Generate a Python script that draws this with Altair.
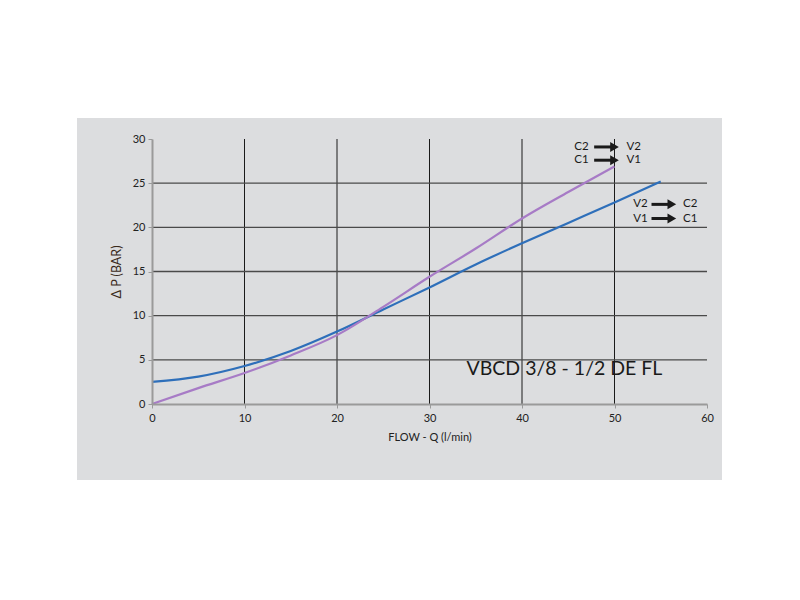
import altair as alt
import pandas as pd

# --- data ---
flow_v_to_c = [0, 5, 10, 15, 20, 25, 30, 35, 40, 45, 50, 55]
dp_v_to_c = [2.5, 3.1, 4.3, 6.0, 8.2, 10.7, 13.2, 15.8, 18.2, 20.5, 22.8, 25.2]
flow_c_to_v = [0, 5, 10, 15, 20, 25, 30, 35, 40, 45, 50]
dp_c_to_v = [0.0, 1.8, 3.5, 5.5, 7.8, 11.0, 14.4, 17.6, 21.0, 24.0, 26.9]

x_grid = [10, 20, 30, 40, 50]
y_grid = [5, 10, 15, 20, 25]
x_ticks = [0, 10, 20, 30, 40, 50, 60]
y_ticks = [0, 5, 10, 15, 20, 25, 30]

label_left = ["C2", "C1", "V2", "V1"]
label_right = ["V2", "V1", "C2", "C1"]
label_left_x = [47.2, 47.2, 53.6, 53.6]
label_right_x = [51.3, 51.3, 57.4, 57.4]
arrow_x0 = [47.8, 47.8, 54.0, 54.0]
arrow_x1 = [50.0, 50.0, 56.2, 56.2]
label_y = [29.1, 27.6, 22.6, 21.0]

title_text = ["VBCD 3/8 - 1/2 DE FL"]
title_x = [34.0]
title_y = [3.95]

FONT = "Lato"
W, H = 555, 265

xs = alt.Scale(domain=[0, 60], nice=False)
ys = alt.Scale(domain=[0, 30], nice=False)

curves = pd.concat([
    pd.DataFrame({"q": flow_v_to_c, "dp": dp_v_to_c, "s": "V to C"}),
    pd.DataFrame({"q": flow_c_to_v, "dp": dp_c_to_v, "s": "C to V"}),
])

bg = alt.Chart(pd.DataFrame({"a": [0]})).mark_rect(color="#dcdddf").encode(
    x=alt.value(-75), x2=alt.value(570), y=alt.value(-21), y2=alt.value(341)
)

vgrid = alt.Chart(pd.DataFrame({"g": x_grid})).mark_rule(color="#1a1a1a", strokeWidth=1).encode(
    x=alt.X("g:Q", scale=xs)
)
hgrid = alt.Chart(pd.DataFrame({"g": y_grid})).mark_rule(color="#4a4a4a", strokeWidth=1.3).encode(
    y=alt.Y("g:Q", scale=ys)
)

lines = alt.Chart(curves).mark_line(strokeWidth=2.2, interpolate="monotone").encode(
    x=alt.X("q:Q", scale=xs,
            axis=alt.Axis(values=x_ticks, title="FLOW - Q (l/min)", grid=False,
                          domainColor="#9a9a9a", domainWidth=2, tickColor="#9a9a9a",
                          tickSize=4, labelFont=FONT, labelFontSize=11, labelColor="#222",
                          labelFlush=False,
                          titleFont=FONT, titleFontSize=11, titleFontWeight="normal",
                          titleColor="#222", labelPadding=4, titlePadding=8, zindex=1)),
    y=alt.Y("dp:Q", scale=ys,
            axis=alt.Axis(values=y_ticks, title="Δ P (BAR)", grid=False,
                          domainColor="#9a9a9a", domainWidth=2, tickColor="#9a9a9a",
                          tickSize=4, labelFont=FONT, labelFontSize=11, labelColor="#222",
                          labelFlush=False,
                          titleFont=FONT, titleFontSize=12.5, titleFontWeight="normal",
                          titleColor="#3a2a1a", labelPadding=3, titlePadding=9, zindex=1)),
    color=alt.Color("s:N", scale=alt.Scale(domain=["V to C", "C to V"],
                                            range=["#2e6fba", "#a77bc6"]), legend=None),
    detail="s:N",
)

ann = pd.DataFrame({
    "l": label_left, "r": label_right, "lx": label_left_x, "rx": label_right_x,
    "a0": arrow_x0, "a1": arrow_x1, "y": label_y,
})
left_txt = alt.Chart(ann).mark_text(align="right", baseline="middle", font=FONT,
                                    fontSize=11.5, color="#1a1a1a").encode(
    x=alt.X("lx:Q", scale=xs), y=alt.Y("y:Q", scale=ys), text="l:N")
right_txt = alt.Chart(ann).mark_text(align="left", baseline="middle", font=FONT,
                                     fontSize=11.5, color="#1a1a1a").encode(
    x=alt.X("rx:Q", scale=xs), y=alt.Y("y:Q", scale=ys), text="r:N")
shaft = alt.Chart(ann).mark_rule(color="#1a1a1a", strokeWidth=3).encode(
    x=alt.X("a0:Q", scale=xs), x2="a1:Q", y=alt.Y("y:Q", scale=ys))
head = alt.Chart(ann).mark_point(shape="triangle-right", filled=True, size=100,
                                 color="#1a1a1a", opacity=1).encode(
    x=alt.X("a1:Q", scale=xs), y=alt.Y("y:Q", scale=ys))

title = alt.Chart(pd.DataFrame({"t": title_text, "x": title_x, "y": title_y})).mark_text(
    align="left", baseline="middle", font=FONT, fontSize=19.5, color="#1a1a1a").encode(
    x=alt.X("x:Q", scale=xs), y=alt.Y("y:Q", scale=ys), text="t:N")

chart = alt.layer(bg, vgrid, hgrid, lines, shaft, head, left_txt, right_txt, title).properties(
    width=W, height=H,
    padding={"left": 144, "top": 131, "right": 80, "bottom": 150},
    autosize=alt.AutoSizeParams(type="none"),
    background="white",
).configure_view(stroke="#9a9a9a", strokeWidth=2, fill=None)

chart.save("out.html", embed_options={"renderer": "svg", "actions": False})
